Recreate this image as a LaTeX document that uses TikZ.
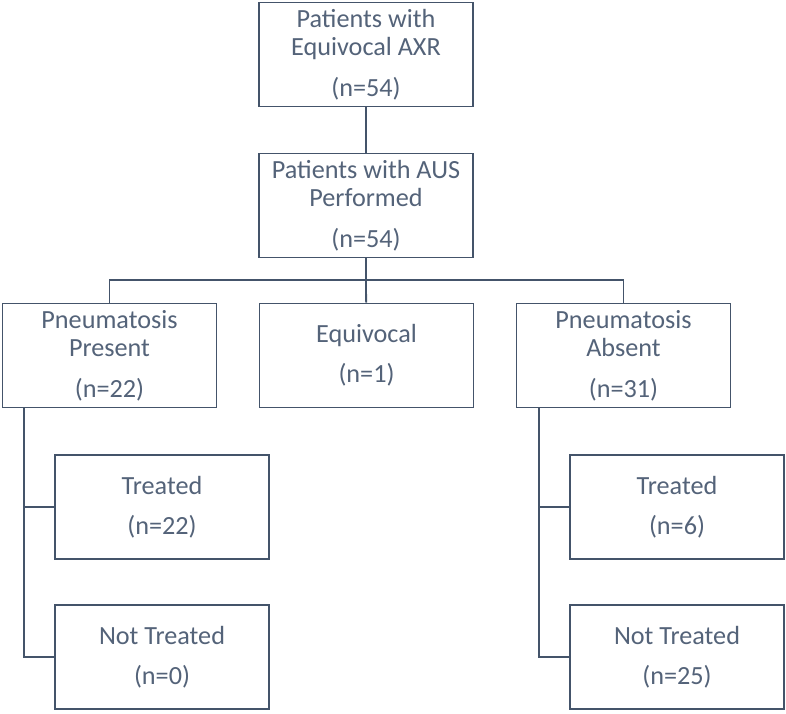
\documentclass[tikz,border=0pt]{standalone}
\usepackage{fontspec}
\setmainfont{Carlito}
\usepackage{tikz}
\usepackage{xcolor}
\usetikzlibrary{positioning,calc}
\definecolor{slateline}{RGB}{68,84,106}
\definecolor{slatetext}{RGB}{84,99,121}

\begin{document}
\begin{tikzpicture}[x=1pt, y=-1pt,
    flowbox/.style={draw=slateline, line width=1.8pt, fill=white, text=slatetext,
        minimum width=214pt, minimum height=104pt, align=center, inner sep=0pt,
        font=\fontsize{26.2}{28}\selectfont},
    link/.style={draw=slateline, line width=1.8pt}]
    \useasboundingbox (0,0) rectangle (786,713);

    % Top of the chart
    \node[flowbox] (axr) at (366,54.5) {Patients with\\Equivocal AXR\\[13pt](n=54)};
    \node[flowbox] (aus) at (366,205.5) {Patients with AUS\\Performed\\[13pt](n=54)};

    % AUS findings
    \node[flowbox] (present) at (109.5,355.5) {Pneumatosis\\Present\\[13pt](n=22)};
    \node[flowbox] (equiv) at (366.5,355.5) {Equivocal\\[12pt](n=1)};
    \node[flowbox] (absent) at (623.5,355.5) {Pneumatosis\\Absent\\[13pt](n=31)};

    % Pneumatosis present
    \node[flowbox] (ptreat) at (162,507) {Treated\\[12pt](n=22)};
    \node[flowbox] (pnot) at (162,657) {Not Treated\\[12pt](n=0)};

    % Pneumatosis absent
    \node[flowbox] (atreat) at (677,507) {Treated\\[12pt](n=6)};
    \node[flowbox] (anot) at (677,657) {Not Treated\\[12pt](n=25)};

    % Connectors
    \coordinate (bus) at (366,280);
    \coordinate (ptrunk) at (24,408);
    \coordinate (atrunk) at (539,408);
    \draw[link] (axr) -- (aus);
    \draw[link] (aus) -- (bus);
    \draw[link] (present.north) |- (bus) -| (absent.north);
    \draw[link] (bus) -- (equiv);
    \draw[link] (ptrunk) |- (ptreat.west);
    \draw[link] (ptrunk) |- (pnot.west);
    \draw[link] (atrunk) |- (atreat.west);
    \draw[link] (atrunk) |- (anot.west);
\end{tikzpicture}
\end{document}
